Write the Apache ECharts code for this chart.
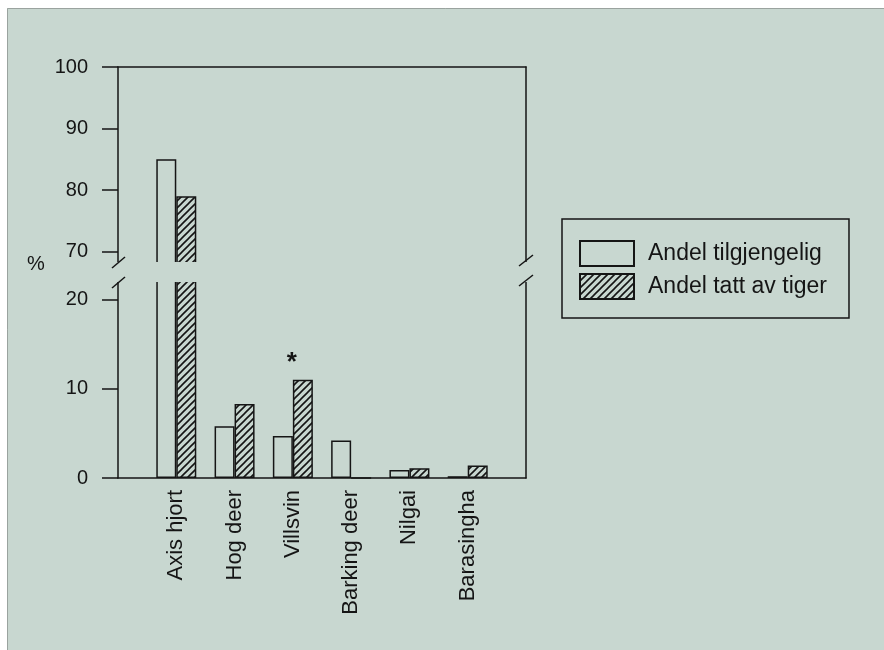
<!DOCTYPE html>
<html><head><meta charset="utf-8">
<script src="https://cdn.jsdelivr.net/npm/echarts@6/dist/echarts.min.js"></script>
<style>html,body{margin:0;padding:0;background:#fff}#c{width:884px;height:650px}</style>
</head><body><div id="c"></div><script>
const categories = ['Axis hjort', 'Hog deer', 'Villsvin', 'Barking deer', 'Nilgai', 'Barasingha'];
const andelTilgjengelig = [85, 5.8, 4.7, 4.2, 0.9, 0.2];
const andelTattAvTiger = [79, 8.3, 11.0, 0, 1.1, 1.4];
const significant = [false, false, true, false, false, false];
const upperTicks = [70, 80, 90, 100];
const lowerTicks = [0, 10, 20];
const seriesNames = ['Andel tilgjengelig', 'Andel tatt av tiger'];
const yUnit = '%';

const BG = '#c8d7d0', INK = '#151515', FONT = "'Liberation Sans', Arial, sans-serif";

// hatch pattern tile
const tile = document.createElement('canvas');
tile.width = 7; tile.height = 7;
const g = tile.getContext('2d');
g.strokeStyle = INK; g.lineWidth = 1.6;
g.beginPath();
g.moveTo(-1, 8); g.lineTo(8, -1);
g.moveTo(-1, 1); g.lineTo(1, -1);
g.moveTo(6, 8); g.lineTo(8, 6);
g.stroke();
const hatch = { image: tile, repeat: 'repeat' };

const axisCats = ['', ...categories, ''];
const pad = a => [null, ...a, null];

const plainStyle = { color: 'rgba(0,0,0,0)', borderColor: INK, borderWidth: 1.5 };
const hatchStyle = { color: hatch, borderColor: INK, borderWidth: 1.5 };

const tattLower = pad(andelTattAvTiger.map((v, i) => significant[i] ? {
  value: v,
  label: { show: true, formatter: '*', position: 'top', distance: 4, offset: [-11, 0],
           fontSize: 26, fontWeight: 'bold', color: INK, fontFamily: FONT }
} : v));

function yAx(grid, min, max, ticks) {
  return {
    type: 'value', gridIndex: grid, min: min, max: max,
    axisLine: { show: true, onZero: false, lineStyle: { color: INK, width: 1.5 } },
    axisTick: { show: true, inside: false, length: 16, customValues: ticks, lineStyle: { color: INK, width: 1.5 } },
    axisLabel: { customValues: ticks, margin: 30, fontSize: 20, color: INK, fontFamily: FONT },
    splitLine: { show: false }
  };
}
function yBorder(grid, min, max) {
  return {
    type: 'value', gridIndex: grid, min: min, max: max, position: 'right',
    axisLine: { show: true, onZero: false, lineStyle: { color: INK, width: 1.5 } },
    axisTick: { show: false }, axisLabel: { show: false }, splitLine: { show: false }
  };
}

const chart = echarts.init(document.getElementById('c'), null, { renderer: 'canvas' });
const option = {
  backgroundColor: BG,
  animation: false,
  textStyle: { fontFamily: FONT },
  grid: [
    { left: 118, right: 358, top: 67, height: 208 },
    { left: 118, right: 358, top: 270, height: 208 }
  ],
  xAxis: [
    { type: 'category', gridIndex: 0, data: axisCats, boundaryGap: false, position: 'top',
      axisLine: { show: true, onZero: false, lineStyle: { color: INK, width: 1.5 } },
      axisTick: { show: false }, axisLabel: { show: false }, splitLine: { show: false } },
    { type: 'category', gridIndex: 1, data: axisCats, boundaryGap: false, position: 'bottom',
      axisLine: { show: true, onZero: false, lineStyle: { color: INK, width: 1.5 } },
      axisTick: { show: false },
      axisLabel: { interval: 0, rotate: 90, margin: 12, fontSize: 22, color: INK, fontFamily: FONT },
      splitLine: { show: false } }
  ],
  yAxis: [
    yAx(0, 66.2, 100, upperTicks),
    yAx(1, 0, 23.3, lowerTicks),
    yBorder(0, 66.2, 100),
    yBorder(1, 0, 23.3)
  ],
  legend: {
    orient: 'vertical', left: 562, top: 219,
    data: seriesNames,
    itemWidth: 54, itemHeight: 25, itemGap: 6,
    padding: [21, 22, 18, 17],
    borderColor: INK, borderWidth: 1.5,
    icon: 'rect',
    textStyle: { fontSize: 23, color: INK, fontFamily: FONT, padding: [0, 0, 0, 9] }
  },
  series: [
    { name: seriesNames[0], type: 'bar', xAxisIndex: 0, yAxisIndex: 0, data: pad(andelTilgjengelig),
      barWidth: 20, barGap: '0%', itemStyle: plainStyle },
    { name: seriesNames[1], type: 'bar', xAxisIndex: 0, yAxisIndex: 0, data: pad(andelTattAvTiger),
      barWidth: 20, barGap: '0%', itemStyle: hatchStyle },
    { name: seriesNames[0], type: 'bar', xAxisIndex: 1, yAxisIndex: 1, data: pad(andelTilgjengelig),
      barWidth: 20, barGap: '0%', itemStyle: plainStyle },
    { name: seriesNames[1], type: 'bar', xAxisIndex: 1, yAxisIndex: 1, data: tattLower,
      barWidth: 20, barGap: '0%', itemStyle: hatchStyle }
  ],
  graphic: [
    // white scan margin
    { type: 'rect', z: 100, shape: { x: 0, y: 0, width: 884, height: 8 }, style: { fill: '#fff' } },
    { type: 'rect', z: 100, shape: { x: 0, y: 0, width: 7, height: 650 }, style: { fill: '#fff' } },
    { type: 'line', z: 100, shape: { x1: 7.5, y1: 8.5, x2: 884, y2: 8.5 }, style: { stroke: '#9aa39f', lineWidth: 1 } },
    { type: 'line', z: 100, shape: { x1: 7.5, y1: 8.5, x2: 7.5, y2: 650 }, style: { stroke: '#9aa39f', lineWidth: 1 } },
    // axis break gap
    { type: 'rect', z: 100, shape: { x: 100, y: 262, width: 445, height: 20 }, style: { fill: BG } },
    { type: 'line', z: 101, shape: { x1: 112, y1: 268, x2: 125, y2: 257 }, style: { stroke: INK, lineWidth: 1.5 } },
    { type: 'line', z: 101, shape: { x1: 112, y1: 288, x2: 125, y2: 277 }, style: { stroke: INK, lineWidth: 1.5 } },
    { type: 'line', z: 101, shape: { x1: 519, y1: 266, x2: 533, y2: 255 }, style: { stroke: INK, lineWidth: 1.5 } },
    { type: 'line', z: 101, shape: { x1: 519, y1: 286, x2: 533, y2: 275 }, style: { stroke: INK, lineWidth: 1.5 } },
    { type: 'text', z: 101, style: { text: yUnit, x: 27, y: 264, fontSize: 20, fill: INK, fontFamily: FONT,
      verticalAlign: 'middle', align: 'left' } }
  ]
};
chart.setOption(option);
</script></body></html>
